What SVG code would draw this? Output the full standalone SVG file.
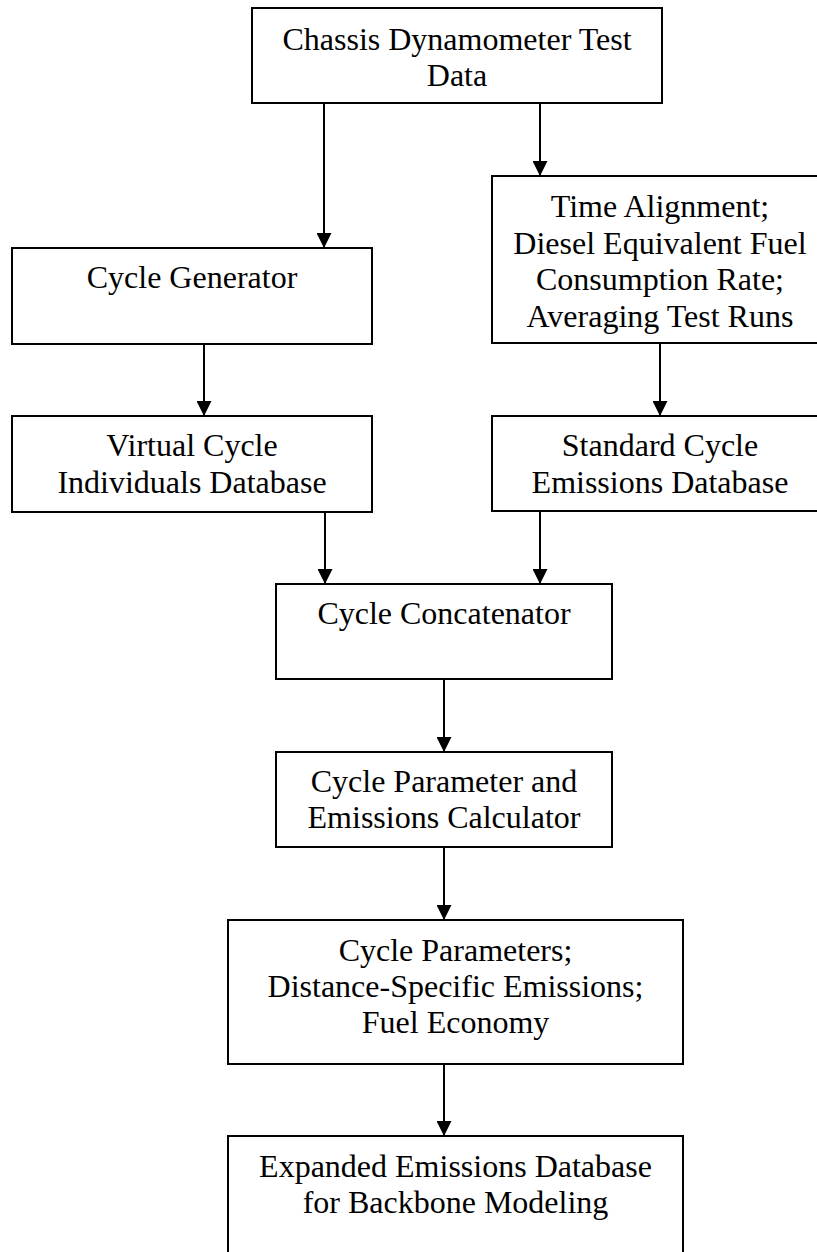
<svg xmlns="http://www.w3.org/2000/svg" width="817" height="1252" viewBox="0 0 817 1252">
<style>
.box{fill:#fff;stroke:#000;stroke-width:2}
.t{font-family:"Liberation Serif","Times New Roman",serif;font-size:32px;fill:#000;text-anchor:middle}
.c{stroke:#000;stroke-width:2;fill:none;marker-end:url(#ah)}
</style>
<defs>
<marker id="ah" markerWidth="15" markerHeight="15" refX="14" refY="7.5" orient="auto" markerUnits="userSpaceOnUse">
<path d="M0,0 L15,7.5 L0,15 Z" fill="#000"/>
</marker>
</defs>
<rect width="817" height="1252" fill="#fff"/>
<g id="connectors">
<line class="c" x1="324" y1="103" x2="324" y2="247"/>
<line class="c" x1="540" y1="103" x2="540" y2="175"/>
<line class="c" x1="204" y1="344" x2="204" y2="415"/>
<line class="c" x1="660" y1="343" x2="660" y2="415"/>
<line class="c" x1="325" y1="512" x2="325" y2="583"/>
<line class="c" x1="540" y1="511" x2="540" y2="583"/>
<line class="c" x1="444" y1="679" x2="444" y2="751"/>
<line class="c" x1="444" y1="847" x2="444" y2="919"/>
<line class="c" x1="444" y1="1064" x2="444" y2="1135"/>
</g>
<g id="n-chassis">
<rect class="box" x="252" y="8" width="410" height="95"/>
<text class="t" x="457" y="50">Chassis Dynamometer Test</text>
<text class="t" x="457" y="86">Data</text>
</g>
<g id="n-generator">
<rect class="box" x="12" y="248" width="360" height="96"/>
<text class="t" x="192" y="288">Cycle Generator</text>
</g>
<g id="n-timealign">
<rect class="box" x="492" y="176" width="336" height="167"/>
<text class="t" x="660" y="217">Time Alignment;</text>
<text class="t" x="660" y="253.5">Diesel Equivalent Fuel</text>
<text class="t" x="660" y="290">Consumption Rate;</text>
<text class="t" x="660" y="326.5">Averaging Test Runs</text>
</g>
<g id="n-virtual">
<rect class="box" x="12" y="416" width="360" height="96"/>
<text class="t" x="192" y="456">Virtual Cycle</text>
<text class="t" x="192" y="493">Individuals Database</text>
</g>
<g id="n-standard">
<rect class="box" x="492" y="416" width="336" height="95"/>
<text class="t" x="660" y="456">Standard Cycle</text>
<text class="t" x="660" y="493">Emissions Database</text>
</g>
<g id="n-concat">
<rect class="box" x="276" y="584" width="336" height="95"/>
<text class="t" x="444" y="624">Cycle Concatenator</text>
</g>
<g id="n-calc">
<rect class="box" x="276" y="752" width="336" height="95"/>
<text class="t" x="444" y="792">Cycle Parameter and</text>
<text class="t" x="444" y="828">Emissions Calculator</text>
</g>
<g id="n-params">
<rect class="box" x="228" y="920" width="455" height="144"/>
<text class="t" x="455.5" y="961">Cycle Parameters;</text>
<text class="t" x="455.5" y="997">Distance-Specific Emissions;</text>
<text class="t" x="455.5" y="1033">Fuel Economy</text>
</g>
<g id="n-expanded">
<rect class="box" x="228" y="1136" width="455" height="130"/>
<text class="t" x="455.5" y="1177">Expanded Emissions Database</text>
<text class="t" x="455.5" y="1213">for Backbone Modeling</text>
</g>
</svg>
